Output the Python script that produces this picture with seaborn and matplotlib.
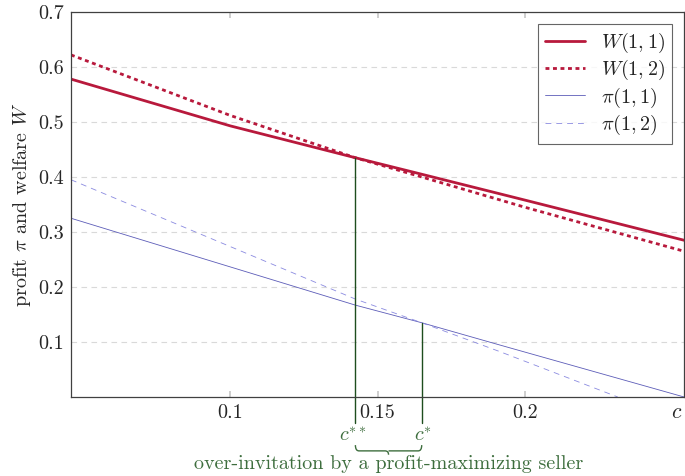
import numpy as np
import pandas as pd
import matplotlib
matplotlib.use("Agg")
import matplotlib.pyplot as plt
import matplotlib.transforms as mtransforms
from matplotlib.path import Path
from matplotlib.patches import PathPatch
import seaborn as sns

sns.set_theme(style="white")
plt.rcParams['font.family'] = ['cmr10', 'DejaVu Serif']
plt.rcParams['mathtext.fontset'] = 'cm'
plt.rcParams['axes.formatter.use_mathtext'] = True

# ---- data ----
c_W = [0.046, 0.1, 0.1425, 0.165, 0.2, 0.254]
W11 = [0.578, 0.493, 0.435, 0.405, 0.358, 0.285]
W12 = [0.622, 0.512, 0.435, 0.400, 0.345, 0.265]
c_pi11 = [0.046, 0.1425, 0.165, 0.1915, 0.254]
pi11 = [0.325, 0.167, 0.135, 0.0945, 0.0]
c_pi12 = [0.046, 0.1425, 0.165, 0.1915, 0.2315]
pi12 = [0.395, 0.178, 0.135, 0.0825, 0.0]
c_ss, W_at_css = 0.1425, 0.435
c_s, pi_at_cs = 0.165, 0.135
xticks = [0.1, 0.15, 0.2]
xticklabels = ["0.1", "0.15", "0.2"]
yticks = [0.1, 0.2, 0.3, 0.4, 0.5, 0.6, 0.7]
yticklabels = ["0.1", "0.2", "0.3", "0.4", "0.5", "0.6", "0.7"]

red = "#B8193C"
blue1 = "#5C5CB8"
blue2 = "#8A8AE0"
green = "#1E4D1E"
green_txt = "#3E6E3E"
FS = 14.5

fig = plt.figure(figsize=(6.85, 4.76), dpi=100)
ax = fig.add_axes([0.1036, 0.166, 0.895, 0.8088])

for y in yticks:
    ax.axhline(y, color="#d9d9d9", lw=0.8, ls=(0, (5, 4)), zorder=0)

sns.lineplot(x=c_W, y=W11, ax=ax, color=red, lw=2.0, label="$W(1,1)$")
sns.lineplot(x=c_W, y=W12, ax=ax, color=red, lw=2.0, label="$W(1,2)$")
ax.lines[-1].set_dashes((1.4, 1.3))
sns.lineplot(x=c_pi11, y=pi11, ax=ax, color=blue1, lw=0.6, label=r"$\pi(1,1)$")
sns.lineplot(x=c_pi12, y=pi12, ax=ax, color=blue2, lw=0.6, label=r"$\pi(1,2)$")
ax.lines[-1].set_dashes((7, 6))

ax.set_xlim(0.046, 0.254)
ax.set_ylim(0, 0.7)
ax.set_xticks(xticks)
ax.set_xticklabels(xticklabels, fontsize=FS)
ax.set_yticks(yticks)
ax.set_yticklabels(yticklabels, fontsize=FS)
ax.tick_params(axis='x', direction='in', length=4, color='#c8c8c8', top=True, bottom=True, pad=5)
ax.tick_params(axis='y', length=0, pad=5)
for s in ax.spines.values():
    s.set_color("#404040")
    s.set_linewidth(0.9)

ax.set_ylabel(r"profit $\pi$ and welfare $W$", fontsize=FS, labelpad=4)
ax.text(0.988, -0.04, "$c$", transform=ax.transAxes, ha='center', va='center', fontsize=FS + 1)

# green markers
trans = mtransforms.blended_transform_factory(ax.transData, ax.transAxes)
ax.plot([c_ss, c_ss], [-0.067, W_at_css / 0.7], transform=trans, color=green, lw=1.0, clip_on=False)
ax.plot([c_s, c_s], [-0.067, pi_at_cs / 0.7], transform=trans, color=green, lw=1.0, clip_on=False)
ax.text(c_ss - 0.0008, -0.10, "$c^{**}$", transform=trans, ha='center', va='center', fontsize=FS, color=green_txt)
ax.text(c_s + 0.0006, -0.10, "$c^{*}$", transform=trans, ha='center', va='center', fontsize=FS, color=green_txt)

# brace
x0, x1 = c_ss, c_s
xm = (x0 + x1) / 2
yt, yb = -0.125, -0.140
dx = 0.0012
verts = [(x0, yt), (x0, yb), (x0 + dx, yb), (xm - dx, yb), (xm, yb), (xm, yb - 0.010),
         (xm, yb), (xm, yb), (xm + dx, yb), (x1 - dx, yb), (x1, yb), (x1, yt)]
codes = [Path.MOVETO, Path.CURVE3, Path.CURVE3, Path.LINETO, Path.CURVE3, Path.CURVE3,
         Path.MOVETO, Path.LINETO, Path.CURVE3, Path.LINETO, Path.CURVE3, Path.CURVE3]
brace = PathPatch(Path(verts, codes), transform=trans, fill=False, edgecolor=green_txt, lw=1.0, clip_on=False)
ax.add_patch(brace)
ax.text(xm, -0.175, "over-invitation by a profit-maximizing seller", transform=trans,
        ha='center', va='center', fontsize=FS, color=green_txt)

leg = ax.legend(loc='upper right', fontsize=FS, frameon=True, fancybox=False,
                edgecolor="#404040", borderpad=0.35, labelspacing=0.15, handlelength=2.0,
                borderaxespad=0.6)
leg.get_frame().set_linewidth(0.8)

fig.savefig("out.png", dpi=100)
